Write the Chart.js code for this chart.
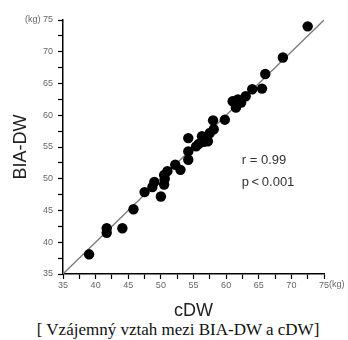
<!DOCTYPE html>
<html lang="cs">
<head>
    <meta charset="UTF-8">
    <title>BIA-DW vs cDW</title>
    <script src="https://cdn.jsdelivr.net/npm/chart.js"></script>
    <style>
        body {
            margin: 0;
            background-color: white;
        }
        .chart-container {
            position: relative;
            width: 348px;
            height: 320px;
        }
        .caption {
            width: 348px;
            height: 20px;
            line-height: 20px;
            padding-left: 8px;
            box-sizing: border-box;
            text-align: center;
            font-family: "Liberation Serif", serif;
            font-size: 17px;
            color: #111;
            white-space: nowrap;
        }
    </style>
</head>
<body>
    <div class="chart-container">
        <canvas id="scatterChart"></canvas>
    </div>
    <div class="caption">[ Vzájemný vztah mezi BIA-DW a cDW]</div>

    <script>
        const cdwValues = [39.0, 41.7, 41.7, 44.1, 45.8, 47.5, 48.7, 49.0, 50.0, 50.5, 50.6, 50.5, 51.0,
                           52.2, 53.0, 54.2, 54.2, 54.2, 55.4, 55.8, 56.3, 56.6, 57.2, 57.5, 58.1, 58.0,
                           59.8, 61.0, 61.5, 61.8, 62.3, 63.0, 64.0, 65.5, 66.0, 68.7, 72.5];
        const biaValues = [38.1, 42.2, 41.5, 42.2, 45.2, 47.9, 48.7, 49.5, 47.2, 49.1, 50.0, 50.6, 51.2,
                           52.2, 51.4, 53.0, 54.3, 56.4, 55.1, 55.5, 56.7, 55.8, 55.9, 57.2, 57.8, 59.2,
                           59.3, 62.2, 61.2, 62.5, 62.0, 63.0, 64.1, 64.2, 66.5, 69.1, 74.0];

        // Axis range and identity line
        const axisMin = 35;
        const axisMax = 75;
        const tickStep = 2.5;
        const identityLine = [axisMin, axisMax];

        // Statistics text
        const statLines = ['r = 0.99', 'p\u2009<\u20090.001'];
        const statPos = { x: 62.4, y: [52.85, 49.4] };

        const points = cdwValues.map((x, i) => ({ x: x, y: biaValues[i] }));

        const tickLabel = (v) => (v % 5 === 0 ? String(v) : '');

        // Draws the r / p text and the "(kg)" unit after the last x tick
        const extrasPlugin = {
            id: 'extras',
            afterDraw(chart) {
                const ctx = chart.ctx;
                const xs = chart.scales.x;
                const ys = chart.scales.y;
                ctx.save();
                ctx.fillStyle = '#333';
                ctx.font = '13px "Liberation Sans", Arial, sans-serif';
                ctx.textAlign = 'left';
                ctx.textBaseline = 'middle';
                statLines.forEach((t, i) => {
                    ctx.fillText(t, xs.getPixelForValue(statPos.x), ys.getPixelForValue(statPos.y[i]));
                });

                ctx.fillStyle = '#666';
                ctx.font = '9px "Liberation Sans", Arial, sans-serif';
                ctx.textBaseline = 'top';
                const lastX = xs.getPixelForValue(axisMax);
                ctx.fillText('(kg)', lastX + 5, ys.bottom + 6);
                ctx.restore();
            }
        };

        new Chart(document.getElementById('scatterChart'), {
            type: 'scatter',
            data: {
                datasets: [
                    {
                        label: 'BIA-DW',
                        data: points,
                        backgroundColor: '#000',
                        borderWidth: 0,
                        pointRadius: 5.2,
                        order: 1
                    },
                    {
                        type: 'line',
                        label: 'identity',
                        data: identityLine.map(v => ({ x: v, y: v })),
                        borderColor: '#7a7a7a',
                        borderWidth: 1.3,
                        pointRadius: 0,
                        order: 2
                    }
                ]
            },
            options: {
                responsive: true,
                maintainAspectRatio: false,
                animation: false,
                layout: {
                    padding: { top: 20, right: 24, bottom: 0, left: 0 }
                },
                plugins: {
                    legend: { display: false },
                    tooltip: { enabled: false }
                },
                scales: {
                    x: {
                        type: 'linear',
                        min: axisMin,
                        max: axisMax,
                        afterFit: (s) => { s.height = 46; },
                        border: { color: '#000', width: 1.5 },
                        grid: { drawOnChartArea: false, tickLength: 5, color: '#000', tickWidth: 1.2 },
                        ticks: {
                            stepSize: tickStep,
                            autoSkip: false,
                            maxRotation: 0,
                            padding: 1,
                            color: '#666',
                            font: { family: '"Liberation Sans", Arial, sans-serif', size: 9 },
                            callback: tickLabel
                        },
                        title: {
                            display: true,
                            text: 'cDW',
                            color: '#222',
                            font: { family: '"Liberation Sans", Arial, sans-serif', size: 18, lineHeight: 1 },
                            padding: { top: 0, bottom: 0 }
                        }
                    },
                    y: {
                        type: 'linear',
                        min: axisMin,
                        max: axisMax,
                        afterFit: (s) => { s.width = 63; },
                        border: { color: '#000', width: 1.5 },
                        grid: { drawOnChartArea: false, tickLength: 5, color: '#000', tickWidth: 1.2 },
                        ticks: {
                            stepSize: tickStep,
                            autoSkip: false,
                            padding: 5,
                            color: '#666',
                            font: { family: '"Liberation Sans", Arial, sans-serif', size: 9 },
                            callback: (v) => (v === axisMax ? '(kg) ' + v : tickLabel(v))
                        },
                        title: {
                            display: true,
                            text: 'BIA-DW',
                            color: '#222',
                            font: { family: '"Liberation Sans", Arial, sans-serif', size: 18, lineHeight: 1 },
                            padding: { top: 12.5, bottom: 0 }
                        }
                    }
                }
            },
            plugins: [extrasPlugin]
        });
    </script>
</body>
</html>
